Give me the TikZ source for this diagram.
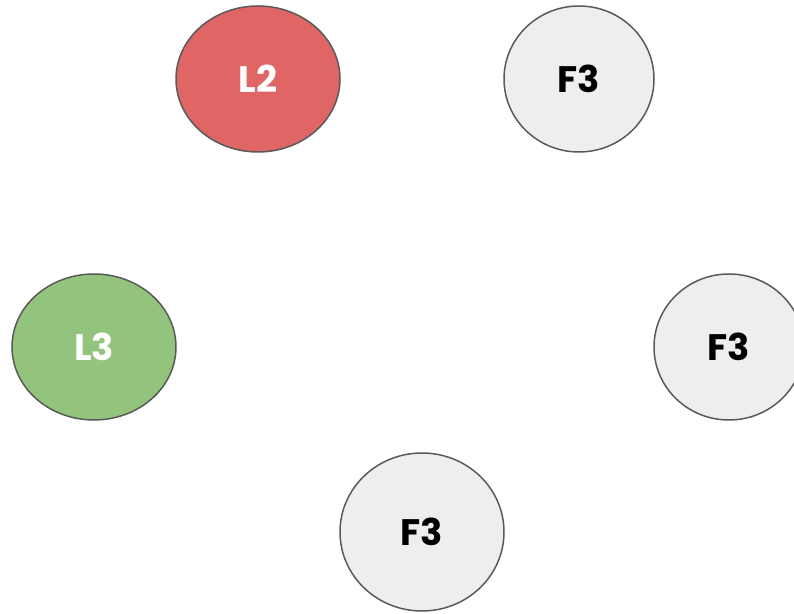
\documentclass[tikz,border=0pt]{standalone}
\usepackage{fontspec}
\newfontfamily\labelfont{Poppins Bold}
\usetikzlibrary{shapes.geometric}
\definecolor{redfill}{HTML}{E06666}
\definecolor{greenfill}{HTML}{93C47D}
\definecolor{grayfill}{HTML}{EEEEEE}
\definecolor{edge}{HTML}{595959}
\tikzset{
  blob/.style={ellipse, draw=edge, line width=1.5pt, inner sep=0pt,
    font=\fontsize{37}{39}\labelfont},
  lnode/.style={blob, text=white},
  fnode/.style={blob, fill=grayfill, text=black}
}
\begin{document}
\begin{tikzpicture}[x=1bp,y=1bp]
\useasboundingbox (0,0) rectangle (794,614);
\clip (0,0) rectangle (794,614);
\node[lnode, fill=redfill, minimum width=164bp, minimum height=146bp] (l2) at (258,535) {L2};
\node[fnode, minimum width=150bp, minimum height=146bp] (f3a) at (579,535) {F3};
\node[lnode, fill=greenfill, minimum width=164bp, minimum height=146bp] (l3) at (94,267) {L3};
\node[fnode, minimum width=150bp, minimum height=146bp] (f3b) at (729,267) {F3};
\node[fnode, minimum width=164bp, minimum height=158bp] (f3c) at (422,82) {F3};
\end{tikzpicture}
\end{document}
